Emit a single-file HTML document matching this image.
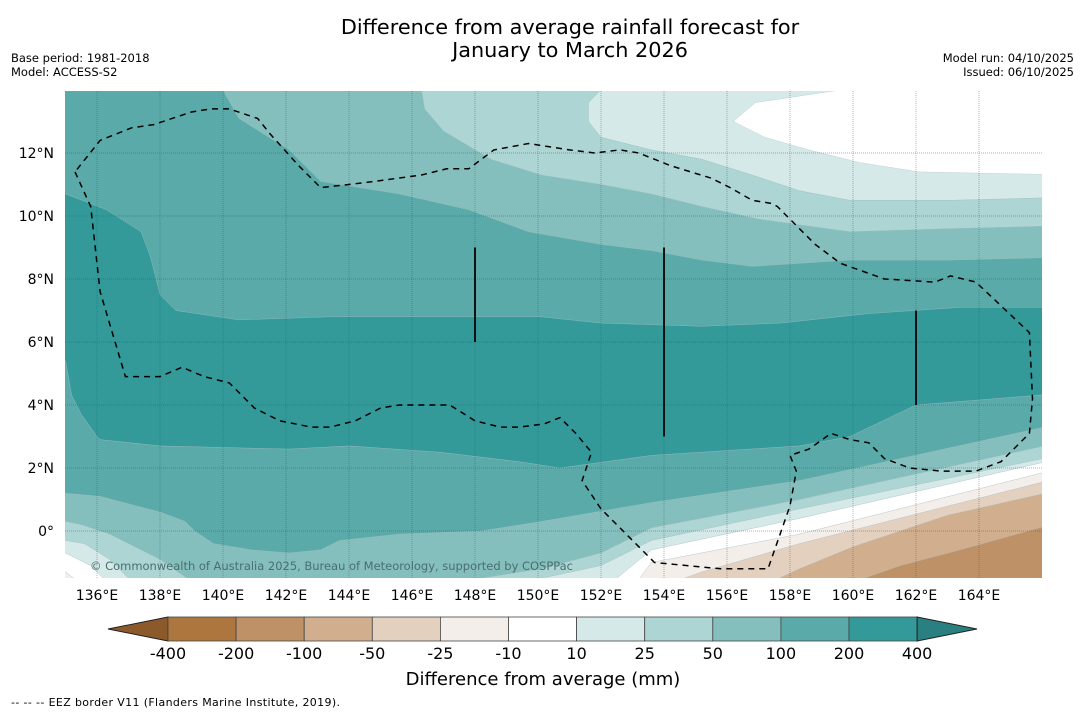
<!DOCTYPE html>
<html><head><meta charset="utf-8">
<style>
body{margin:0;background:#fff;font-family:"Liberation Sans","DejaVu Sans",sans-serif;}
#wrap{position:relative;width:1085px;height:713px;overflow:hidden;background:#fff}
svg text{font-family:"DejaVu Sans","Liberation Sans",sans-serif}
</style></head>
<body>
<div id="wrap">
<svg id="svg" width="1085" height="713" viewBox="0 0 1085 713">
<defs><clipPath id="mapclip"><rect x="65" y="91" width="977" height="487"/></clipPath></defs>
<text x="570" y="34" font-size="20.8" text-anchor="middle">Difference from average rainfall forecast for</text>
<text x="570" y="57" font-size="20.8" text-anchor="middle">January to March 2026</text>
<text x="11" y="62" font-size="11.5">Base period: 1981-2018</text>
<text x="11" y="76" font-size="11.5">Model: ACCESS-S2</text>
<text x="1074" y="62" font-size="11.5" text-anchor="end">Model run: 04/10/2025</text>
<text x="1074" y="76" font-size="11.5" text-anchor="end">Issued: 06/10/2025</text>
<g id="map" clip-path="url(#mapclip)"></g>
<g id="axes"></g>
<g id="cbar"></g>
<text x="543" y="685" font-size="18" text-anchor="middle">Difference from average (mm)</text>
<text x="11" y="706" font-size="11" textLength="329">--  --  -- EEZ border V11 (Flanders Marine Institute, 2019).</text>
</svg>
</div>
<script>
// colorbar data
const levels=[-400,-200,-100,-50,-25,-10,10,25,50,100,200,400];
const bandColors=["#8c5a2a","#ad763f","#bf9167","#d1ae8e","#e4d0bf","#f3eeea","#ffffff","#d5e9e8","#acd5d4","#84bfbe","#5aaaaa","#339999","#2a7f80"];
const lonTicks=[136,138,140,142,144,146,148,150,152,154,156,158,160,162,164];
const latTicks=[0,2,4,6,8,10,12];
// contour boundary lines [lon,lat]
const north1=[[134,11.2],[135,10.7],[136.3,10.2],[137.4,9.5],[137.7,8.7],[138,7.5],[138.5,7.0],[140.5,6.7],[143.4,6.8],[147.2,6.8],[150.1,6.8],[152,6.6],[155.2,6.5],[157.7,6.6],[160.5,6.9],[163.4,7.1],[167,7.1]];
const north2=[[140,15],[140,14],[140.5,13.1],[142.1,12.1],[143.1,11.1],[145.6,10.7],[147.8,10.2],[149.7,9.5],[152,9.1],[153.6,8.9],[155.2,8.6],[156.8,8.4],[159.9,8.6],[163.1,8.6],[167,8.7]];
const north3=[[146.3,15],[146.3,14],[146.4,13.4],[147,12.7],[148.5,11.8],[150.1,11.3],[152,11.0],[153.6,10.7],[155.2,10.3],[157,9.9],[159.9,9.5],[163.1,9.6],[167,9.7]];
const north4=[[152,15],[152,14],[151.6,13.6],[151.6,13.0],[152,12.5],[153.6,12.1],[155.2,11.8],[156.8,11.3],[158.3,10.8],[159.9,10.5],[163.1,10.5],[167,10.6]];
const whiteTop=[[159.6,14],[156.9,13.6],[156.2,13.0],[157.2,12.5],[158.6,12.1],[160.2,11.7],[162.1,11.4],[167,11.3],[167,15],[159.6,15]];
const south=[
 [[134,5.6],[135,5.4],[135.2,4.3],[135.5,3.7],[136,3.0],[136.1,2.9],[138,2.7],[142.1,2.6],[144,2.7],[146.9,2.5],[149.4,2.2],[150.7,2.0],[153.6,2.4],[158.3,2.7],[159.9,3.0],[162,4.0],[167,4.4]],
 [[134,1.3],[135,1.2],[136.1,1.1],[138,0.6],[138.8,0.3],[139.1,0.0],[139.7,-0.4],[140.9,-0.6],[142.1,-0.7],[143.1,-0.6],[143.7,-0.3],[145.6,-0.1],[148.2,0.0],[150.1,0.3],[153.6,0.9],[158.3,1.6],[167,3.5]],
 [[134,0.4],[135,0.3],[135.5,0.2],[136.4,-0.1],[137,-0.4],[138,-0.9],[139,-1.6],[147,-1.7],[148.5,-1.45],[150.1,-1.2],[152,-0.7],[153.6,0.1],[158.3,1.0],[167,2.9]],
 [[134,-0.2],[135,-0.3],[135.6,-0.4],[136.4,-0.9],[137,-1.5],[137.5,-1.8],[149,-1.8],[150.1,-1.5],[152,-1.1],[153.6,-0.3],[158.3,0.7],[167,2.5]],
 [[134,-0.6],[135,-0.7],[135.8,-1.1],[136.3,-1.6],[136.5,-1.8],[151,-1.8],[152.5,-1.5],[153.6,-0.6],[158.3,0.4],[167,2.4]],
 [[134,-1.3],[135,-1.3],[135.4,-1.6],[135.6,-1.8],[153,-1.8],[153.6,-1.0],[158.3,-0.1],[167,2.1]],
 [[153.8,-1.8],[155.2,-1.3],[158.3,-0.4],[167,1.8]],
 [[157,-1.8],[158.3,-1.2],[160,-0.5],[163,0.5],[167,1.4]],
 [[159.5,-1.8],[161.5,-1.1],[163.4,-0.6],[167,0.4]]
];
const southColors=["#5aaaaa","#84bfbe","#acd5d4","#d5e9e8","#ffffff","#f3eeea","#e4d0bf","#d1ae8e","#bf9167"];
const eez=[[135.3,11.4],[135.8,10.3],[136.1,7.6],[136.9,4.9],[138,4.9],[138.7,5.2],[139.4,4.9],[140.2,4.7],[141,3.9],[141.8,3.5],[142.8,3.3],[143.4,3.3],[144.2,3.5],[145,3.9],[145.6,4.0],[147.2,4.0],[148,3.5],[148.8,3.3],[149.4,3.3],[150.2,3.4],[150.7,3.6],[151.2,3.1],[151.7,2.5],[151.4,1.6],[152,0.7],[152.8,-0.1],[153.7,-1.0],[155.8,-1.2],[157.3,-1.2],[158,0.8],[158.2,1.9],[158,2.4],[158.6,2.6],[159.3,3.1],[159.9,2.9],[160.5,2.8],[161,2.3],[161.8,2.0],[162.8,1.9],[163.9,1.9],[164.7,2.2],[165.6,3.1],[165.7,4.2],[165.6,6.3],[163.9,7.9],[163.1,8.1],[162.6,7.9],[161,8.0],[159.6,8.5],[158.8,9.1],[158.2,9.7],[157.6,10.3],[157.4,10.4],[156.8,10.5],[156.1,10.9],[155.5,11.2],[154.2,11.6],[153.2,12.0],[152.6,12.1],[151.8,12.0],[151,12.1],[149.7,12.3],[148.6,12.1],[147.8,11.5],[147.1,11.5],[146.3,11.3],[144.8,11.1],[144,11.0],[143.1,10.9],[142.4,11.6],[141.5,12.6],[141.1,13.1],[140.2,13.4],[139.6,13.4],[139,13.3],[137.8,12.9],[137.1,12.8],[136.1,12.4],[135.3,11.4]];
const sticks=[[148,6,9],[154,3,9],[162,4,7]];

const X=lon=>65.5+(lon-135)*31.5;
const Y=lat=>531-lat*31.5;
const NS="http://www.w3.org/2000/svg";
function mk(tag,attrs,parent){const e=document.createElementNS(NS,tag);for(const k in attrs)e.setAttribute(k,attrs[k]);parent.appendChild(e);return e;}
const pts=a=>a.map(p=>X(p[0]).toFixed(1)+","+Y(p[1]).toFixed(1)).join(" ");
const map=document.getElementById('map');
let r=mk('rect',{x:65,y:91,width:977,height:487,fill:"#339999"},map);


const northColors=["#5aaaaa","#84bfbe","#acd5d4","#d5e9e8"];
[north1,north2,north3,north4].forEach((ln,i)=>{
 const e=mk('polygon',{points:pts(i===0?ln.concat([[167,16],[134,16]]):ln.concat([[167,16],[ln[0][0],16]])),fill:northColors[i],stroke:"#9bbcbc","stroke-width":0.4},map);
 
 
});
let w=mk('polygon',{points:pts(whiteTop),fill:"#ffffff",stroke:"#b8cccc","stroke-width":0.4},map);


south.forEach((ln,i)=>{
 const e=mk('polygon',{points:pts(ln.concat([[167,-3],[ln[0][0],-3]])),fill:southColors[i],stroke:"#a9bcbc","stroke-width":0.4},map);
 
 
});
// grid
lonTicks.forEach(l=>{const e=mk('line',{x1:X(l),x2:X(l),y1:91,y2:578,stroke:"#3a5a5a","stroke-width":0.7,"stroke-dasharray":"1,1","stroke-opacity":0.6},map);
 
 });
latTicks.forEach(l=>{const e=mk('line',{x1:65,x2:1042,y1:Y(l),y2:Y(l),stroke:"#3a5a5a","stroke-width":0.7,"stroke-dasharray":"1,1","stroke-opacity":0.6},map);
 
 });
let ez=mk('polyline',{points:pts(eez),fill:"none",stroke:"#000","stroke-width":1.5,"stroke-dasharray":"6,5"},map);


sticks.forEach(s=>{const e=mk('line',{x1:X(s[0]),x2:X(s[0]),y1:Y(s[2]),y2:Y(s[1]),stroke:"#111","stroke-width":2},map);
 
 });
let cp=mk('text',{x:90,y:570,"font-size":11.5,fill:"#4a6f70",textLength:483},map);
cp.textContent="© Commonwealth of Australia 2025, Bureau of Meteorology, supported by COSPPac";


// axes labels
const axes=document.getElementById('axes');
lonTicks.forEach(l=>{const t=mk('text',{x:X(l),y:600,"font-size":14,"text-anchor":"middle"},axes);t.textContent=l+"°E";
 
 });
latTicks.forEach(l=>{const t=mk('text',{x:54,y:Y(l)+5,"font-size":14,"text-anchor":"end"},axes);t.textContent=l===0?"0°":l+"°N";
 
 });
// colorbar
const cb=document.getElementById('cbar');
const cx0=168,cw=68.1,cy=617,ch=24;
let tl=mk('polygon',{points:`108,629 ${cx0},${cy} ${cx0},${cy+ch}`,fill:bandColors[0],stroke:"#222","stroke-width":1},cb);


for(let i=0;i<levels.length-1;i++){
 const e=mk('rect',{x:cx0+i*cw,y:cy,width:cw,height:ch,fill:bandColors[i+1],stroke:"#444","stroke-width":0.8},cb);
 
 
}
const cend=cx0+(levels.length-1)*cw;
let tr=mk('polygon',{points:`${cend},${cy} 977,629 ${cend},${cy+ch}`,fill:bandColors[12],stroke:"#222","stroke-width":1},cb);


levels.forEach((v,i)=>{const t=mk('text',{x:cx0+i*cw,y:659,"font-size":16,"text-anchor":"middle"},cb);t.textContent=v;
 
 });
</script>
</body></html>
